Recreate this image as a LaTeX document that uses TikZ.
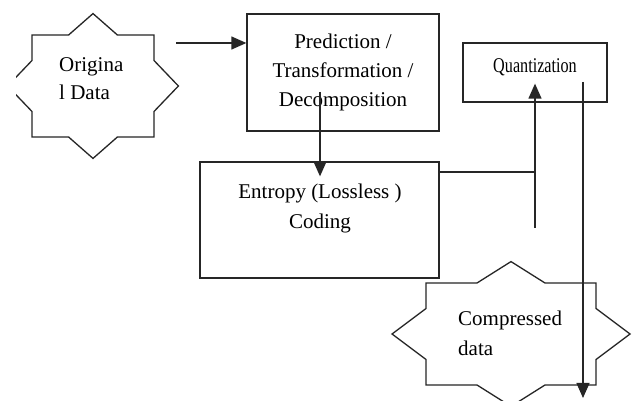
\documentclass[tikz,border=0pt]{standalone}
\usepackage{fontspec}
\setmainfont{Liberation Serif}
\usetikzlibrary{arrows.meta}
\tikzset{
  ln/.style={draw=black!85, line width=1.3pt},
  arr/.style={ln, -{Triangle[length=15pt,width=13pt]}},
  boxnode/.style={ln, rectangle, inner sep=0pt},
  txt/.style={inner sep=0pt, font=\fontsize{21}{29}\selectfont},
  starline/.style={draw=black!85, line width=1.3pt, line join=miter},
}
\newcommand\starpathnorm{(0,1.42) -- (0.4,1) -- (1,1) -- (1,0.5) -- (1.4,0) -- (1,-0.5) -- (1,-1) -- (0.4,-1) -- (0,-1.42) -- (-0.4,-1) -- (-1,-1) -- (-1,-0.5) -- (-1.4,0) -- (-1,0.5) -- (-1,1) -- (-0.4,1) -- cycle}
\begin{document}
\begin{tikzpicture}[x=1pt,y=-1pt]
\useasboundingbox[fill=white] (0,0) rectangle (633,401);
\clip (16,0) rectangle (633,401);
% stars
\begin{scope}[shift={(93,86)}, x=61pt, y=51pt]
  \draw[starline] \starpathnorm;
\end{scope}
\begin{scope}[shift={(511,334)}, x=85pt, y=51pt]
  \draw[starline] \starpathnorm;
\end{scope}
\node[txt, align=left, anchor=north west] (orig) at (59,57.6) {Origina\\[-1pt]l Data};
\node[txt, align=left, anchor=north west] (comp) at (458,310.8) {Compressed\\[1pt]data};
% boxes
\node[boxnode, minimum width=192pt, minimum height=117pt, txt, align=center] (pred) at (343,72.5) {Prediction /\\Transformation /\\Decomposition};
\node[boxnode, minimum width=144pt, minimum height=59pt] (quant) at (535,72.5) {};
\node[txt, anchor=north] (quanttxt) at (535,58.8) {\scalebox{0.77}[1]{Quantization}};
\node[boxnode, minimum width=239pt, minimum height=116pt] (ent) at (319.5,220) {};
\node[txt, anchor=north, align=center] (enttxt) at (320,183.5) {Entropy (Lossless )\\[1pt]Coding};
% connectors
\coordinate (a1) at (176,43);
\draw[arr] (a1) -- (pred.west |- a1);
\coordinate (a2) at (320,92);
\draw[arr, shorten >=-15pt] (a2) -- (a2 |- ent.north);
\coordinate (j) at (535,172);
\draw[ln] (ent.east |- j) -- (j);
\coordinate (a3) at (535,228);
\draw[arr, shorten >=-19pt] (a3) -- (quant.south);
\coordinate (a4s) at (583,82);
\coordinate (a4e) at (583,398);
\draw[arr] (a4s) -- (a4e);
\end{tikzpicture}
\end{document}
